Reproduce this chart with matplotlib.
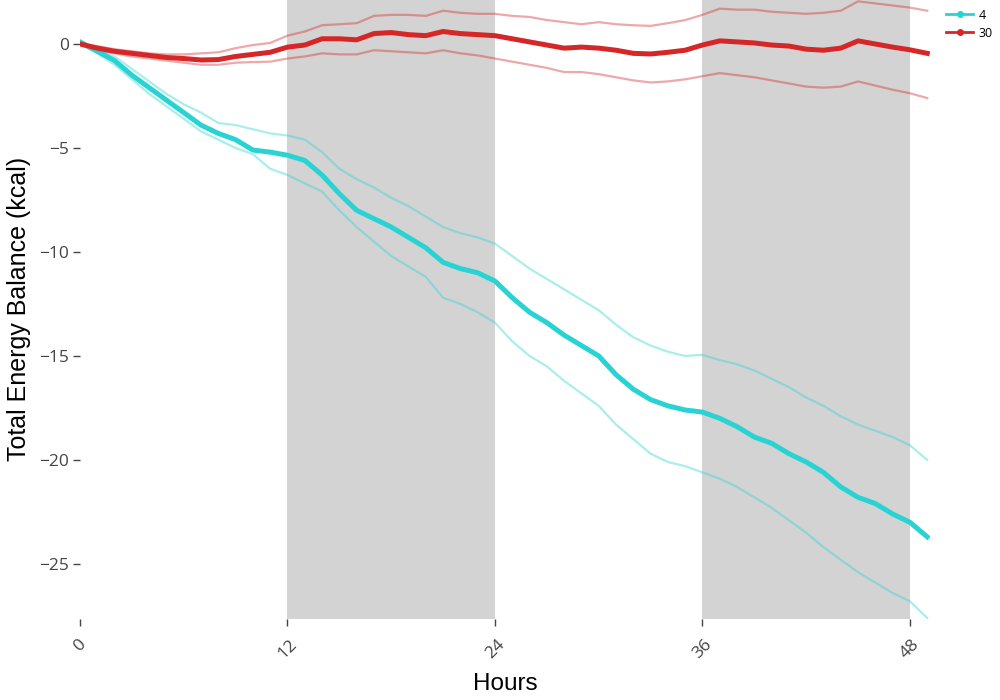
import matplotlib
matplotlib.use("Agg")
import matplotlib.pyplot as plt
from matplotlib.lines import Line2D

hours = list(range(50))

# group "4"
mean_4 = [0.1, -0.35, -0.8, -1.5, -2.1, -2.7, -3.3, -3.9, -4.3, -4.6,
          -5.1, -5.2, -5.35, -5.6, -6.3, -7.2, -8.0, -8.4, -8.8, -9.3,
          -9.8, -10.5, -10.8, -11.0, -11.4, -12.2, -12.9, -13.4, -14.0, -14.5,
          -15.0, -15.9, -16.6, -17.1, -17.4, -17.6, -17.7, -18.0, -18.4, -18.9,
          -19.2, -19.7, -20.1, -20.6, -21.3, -21.8, -22.1, -22.6, -23.0, -23.7]
upper_4 = [0.15, -0.25, -0.6, -1.2, -1.8, -2.4, -2.9, -3.3, -3.8, -3.9,
           -4.1, -4.3, -4.4, -4.6, -5.2, -6.0, -6.5, -6.9, -7.4, -7.8,
           -8.3, -8.8, -9.1, -9.3, -9.6, -10.2, -10.8, -11.3, -11.8, -12.3,
           -12.8, -13.5, -14.1, -14.5, -14.8, -15.0, -14.95, -15.2, -15.4, -15.7,
           -16.1, -16.5, -17.0, -17.4, -17.9, -18.3, -18.6, -18.9, -19.3, -20.0]
lower_4 = [0.0, -0.45, -1.0, -1.7, -2.4, -3.0, -3.6, -4.2, -4.6, -5.0,
           -5.3, -6.0, -6.3, -6.7, -7.1, -8.0, -8.8, -9.5, -10.2, -10.7,
           -11.2, -12.2, -12.5, -12.9, -13.4, -14.3, -15.0, -15.5, -16.2, -16.8,
           -17.4, -18.3, -19.0, -19.7, -20.1, -20.3, -20.6, -20.9, -21.3, -21.8,
           -22.3, -22.9, -23.5, -24.2, -24.8, -25.4, -25.9, -26.4, -26.8, -27.6]

# group "30"
mean_30 = [0.0, -0.2, -0.35, -0.45, -0.55, -0.65, -0.7, -0.77, -0.75, -0.6,
           -0.5, -0.4, -0.15, -0.05, 0.25, 0.25, 0.2, 0.5, 0.55, 0.45,
           0.4, 0.6, 0.5, 0.45, 0.4, 0.25, 0.1, -0.05, -0.2, -0.15,
           -0.2, -0.3, -0.45, -0.48, -0.4, -0.3, -0.05, 0.15, 0.1, 0.05,
           -0.05, -0.1, -0.25, -0.3, -0.2, 0.15, 0.0, -0.15, -0.28, -0.45]
upper_30 = [0.0, -0.1, -0.25, -0.35, -0.45, -0.5, -0.5, -0.45, -0.4, -0.2,
            -0.05, 0.05, 0.4, 0.6, 0.9, 0.95, 1.0, 1.35, 1.4, 1.4,
            1.35, 1.6, 1.5, 1.45, 1.45, 1.35, 1.3, 1.15, 1.05, 0.95,
            1.05, 0.95, 0.9, 0.87, 1.0, 1.15, 1.4, 1.7, 1.65, 1.65,
            1.55, 1.5, 1.45, 1.5, 1.6, 2.05, 1.95, 1.85, 1.75, 1.6]
lower_30 = [0.0, -0.3, -0.45, -0.6, -0.7, -0.8, -0.9, -1.0, -1.0, -0.9,
            -0.87, -0.85, -0.7, -0.6, -0.45, -0.5, -0.5, -0.3, -0.35, -0.4,
            -0.45, -0.3, -0.45, -0.55, -0.7, -0.85, -1.0, -1.15, -1.35, -1.35,
            -1.45, -1.6, -1.75, -1.85, -1.8, -1.7, -1.55, -1.4, -1.5, -1.6,
            -1.75, -1.9, -2.05, -2.1, -2.05, -1.8, -2.0, -2.2, -2.37, -2.6]

dark_periods = [(12, 24), (36, 48)]
x_ticks = [0, 12, 24, 36, 48]
y_ticks = [0, -5, -10, -15, -20, -25]

cyan = "#2ad3d3"
red = "#d62728"

fig = plt.figure(figsize=(10, 7), dpi=100)
ax = fig.add_axes([0.08, 0.116, 0.85, 0.884])

for start, end in dark_periods:
    ax.axvspan(start, end, color="#d3d3d3", lw=0, zorder=0)

ax.plot(hours, upper_4, color=cyan, lw=1.6, alpha=0.4, zorder=2)
ax.plot(hours, lower_4, color=cyan, lw=1.6, alpha=0.4, zorder=2)
ax.plot(hours, upper_30, color=red, lw=1.6, alpha=0.4, zorder=2)
ax.plot(hours, lower_30, color=red, lw=1.6, alpha=0.4, zorder=2)
ax.plot(hours, mean_4, color=cyan, lw=3.6, zorder=3)
ax.plot(hours, mean_30, color=red, lw=3.6, zorder=3)

ax.set_xlim(0, 49.16)
ax.set_ylim(-27.64, 2.115)
for s in ax.spines.values():
    s.set_visible(False)

ax.set_xticks(x_ticks)
ax.set_xticklabels([str(t) for t in x_ticks], rotation=45, ha="center", va="top")
ax.set_yticks(y_ticks)
ax.set_yticklabels([str(t).replace("-", "\u2212") for t in y_ticks])
ax.tick_params(axis="both", length=5, width=1, color="#444444",
               labelcolor="#444444", labelsize=12.5)
ax.tick_params(axis="x", pad=8)
ax.tick_params(axis="y", pad=3)
for lab in ax.get_xticklabels() + ax.get_yticklabels():
    lab.set_family("Open Sans")

ax.set_xlabel("Hours", fontsize=17.5, family="Liberation Sans", labelpad=8)
ax.set_ylabel("Total Energy Balance (kcal)", fontsize=18,
              family="Liberation Sans", labelpad=6)

handles = [Line2D([], [], color=cyan, lw=2, marker="o", markersize=4),
           Line2D([], [], color=red, lw=2, marker="o", markersize=4)]
fig.legend(handles, ["4", "30"], loc="upper left", bbox_to_anchor=(0.937, 1.0),
           frameon=False, handlelength=2.2, handletextpad=0.4, labelspacing=0.4,
           borderaxespad=0.3, prop={"family": "Open Sans", "size": 9})

fig.savefig("out.png", dpi=100)
